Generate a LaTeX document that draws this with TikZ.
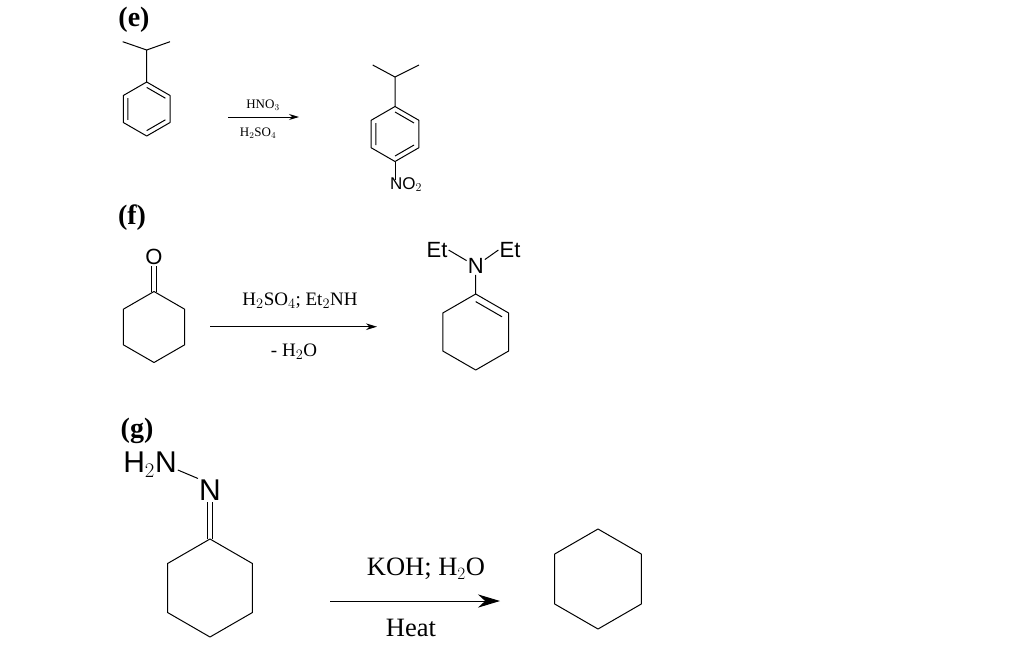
\documentclass[tikz,border=0pt]{standalone}
\usepackage{fontspec}
\setmainfont{Liberation Serif}
\newfontfamily\sansf{Liberation Sans}
\usetikzlibrary{arrows.meta}
\newcommand{\hexring}[4]{%
 \foreach \i in {0,...,5}{\coordinate (#1\i) at ([shift={(#2,#3)}]-90-60*\i:#4);
  \coordinate (#1in\i) at ([shift={(#2,#3)}]-90-60*\i:0.8*#4);}
 \draw[bond] (#10)--(#11)--(#12)--(#13)--(#14)--(#15)--cycle;}
\begin{document}
\begin{tikzpicture}[x=1pt,y=-1pt,bond/.style={line width=1pt,line join=round},
 lbl/.style={font=\fontsize{28}{30}\selectfont\bfseries,inner sep=0},
 atom/.style={font=\sansf,inner sep=1pt},
 rxn/.style={line width=1pt,-{Stealth[length=#1,width=0.6*#1]}}]
\useasboundingbox (0,0) rectangle (1024,649);
\fill[white] (0,0) rectangle (1024,649);
% (e)
\node[lbl] (le) at (134,20) {(e)};
\hexring{A}{146.7}{109}{27}
\draw[bond] (Ain1)--(Ain2) (Ain3)--(Ain4) (Ain5)--(Ain0);
\coordinate (Ach) at (146.7,50);
\coordinate (Am1) at (122.7,41.7);
\coordinate (Am2) at (170,41.7);
\draw[bond] (A0)--(Ach) (Am1)--(Ach)--(Am2);
\coordinate (ea1) at (228,117); \coordinate (ea2) at (299,117);
\draw[rxn=10pt] (ea1)--(ea2);
\node[font=\fontsize{13}{14}\selectfont] (et) at (263,105) {HNO$_3$};
\node[font=\fontsize{13}{14}\selectfont] (eb) at (258,133) {H$_2$SO$_4$};
\hexring{B}{395}{134}{27.5}
\draw[bond] (Bin1)--(Bin2) (Bin3)--(Bin4) (Bin5)--(Bin0);
\coordinate (Bch) at (395,77);
\coordinate (Bm1) at (372.7,65);
\coordinate (Bm2) at (419,65);
\draw[bond] (B0)--(Bch) (Bm1)--(Bch)--(Bm2);
\node[atom,font=\sansf\fontsize{17}{18}\selectfont,anchor=north] (no2) at (406,176) {NO$_2$};
\draw[bond] (B3)--(395,180);
% (f)
\node[lbl] (lf) at (132,218) {(f)};
\hexring{C}{154}{327}{35.5}
\node[atom,font=\sansf\fontsize{22}{24}\selectfont] (O) at (154,257) {O};
\draw[bond] ([xshift=-2.3]C0)--([xshift=-2.3]O.south) ([xshift=2.3]C0)--([xshift=2.3]O.south);
\coordinate (fa1) at (210,326.7); \coordinate (fa2) at (377,326.7);
\draw[rxn=11pt] (fa1)--(fa2);
\node[font=\fontsize{19}{21}\selectfont] (ft) at (300,301) {H$_2$SO$_4$; Et$_2$NH};
\node[font=\fontsize{19}{21}\selectfont] (fb) at (294,352) {- H$_2$O};
\hexring{D}{475.7}{332}{38}
\draw[bond] (Din5)--(Din0);
\node[atom,font=\sansf\fontsize{22}{24}\selectfont] (N1) at (475.7,266) {N};
\node[atom,font=\sansf\fontsize{22}{24}\selectfont] (Et1) at (437,250) {Et};
\node[atom,font=\sansf\fontsize{22}{24}\selectfont] (Et2) at (510,250) {Et};
\draw[bond] (N1)--(D0) (N1)--(Et1.east) (N1)--(Et2.west);
% (g)
\node[lbl] (lg) at (137,431) {(g)};
\hexring{E}{210}{588}{49}
\node[atom,font=\sansf\fontsize{30}{32}\selectfont] (N2) at (210,490) {N};
\node[atom,font=\sansf\fontsize{30}{32}\selectfont] (H2N) at (150,465) {H$_2$N};
\draw[bond] (H2N.east)++(0,5) coordinate (hn) (hn)--(N2.north west);
\draw[bond] ([xshift=-2.5]E0)--([xshift=-2.5]N2.south) ([xshift=2.5]E0)--([xshift=2.5]N2.south);
\coordinate (ga1) at (330,601); \coordinate (ga2) at (500,601);
\draw[rxn=22pt] (ga1)--(ga2);
\node[font=\fontsize{26.5}{29}\selectfont] (gt) at (426,569) {KOH; H$_2$O};
\node[font=\fontsize{26.5}{29}\selectfont] (gb) at (411,628) {Heat};
\hexring{F}{598}{579}{50}
\end{tikzpicture}
\end{document}
